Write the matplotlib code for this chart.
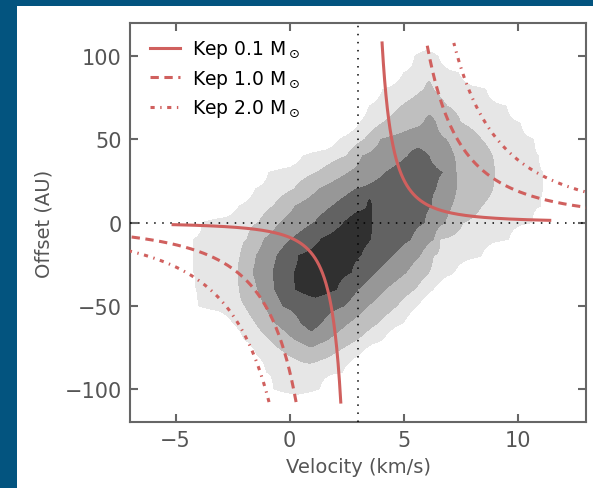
import numpy as np
import matplotlib.pyplot as plt
from matplotlib.patches import Rectangle

plt.rcParams['lines.scale_dashes'] = False

# PV diagram: for each offset row (AU) the velocity
# edges (km/s) of every filled band, lightest (1) to darkest (5)
nan = np.nan
offsets = [110, 100, 90, 80, 70, 60, 50, 40, 30, 20, 10, 0,
           -10, -20, -30, -40, -50, -60, -70, -80, -90, -100, -110]
lev1_lo = [nan, 5.5, 5.0, 4.1, 3.5, 3.1, 2.2, 0.6, -0.9, -1.5, -2.2, -3.8,
           -4.2, -4.2, -4.2, -4.1, -4.0, -2.5, -2.0, -1.4, -1.0, -0.7, nan]
lev1_hi = [nan, 6.5, 7.4, 8.6, 9.5, 10.1, 10.7, 10.9, 11.1, 11.1, 11.0, 10.6,
           9.6, 8.4, 7.2, 6.3, 5.6, 5.0, 4.1, 3.0, 2.3, 1.3, nan]
lev2_lo = [nan, nan, nan, 5.9, 4.9, 4.1, 3.3, 2.5, 1.2, 0.2, -0.7, -1.35,
           -1.85, -2.15, -2.25, -2.2, -1.95, -1.5, -0.9, 0.0, nan, nan, nan]
lev2_hi = [nan, nan, nan, 6.3, 6.9, 7.5, 8.4, 8.9, 9.0, 8.9, 8.4, 7.6,
           6.6, 6.3, 6.1, 5.5, 4.7, 3.9, 3.0, 1.8, nan, nan, nan]
lev3_lo = [nan, nan, nan, nan, nan, 5.9, 4.0, 3.2, 2.6, 1.3, 0.25, -0.4,
           -1.1, -1.45, -1.6, -1.4, -1.1, -0.65, 0.2, nan, nan, nan, nan]
lev3_hi = [nan, nan, nan, nan, nan, 6.4, 6.85, 7.2, 7.3, 7.3, 7.1, 6.8,
           6.3, 5.7, 5.1, 4.2, 3.45, 2.6, 1.7, nan, nan, nan, nan]
lev4_lo = [nan, nan, nan, nan, nan, nan, nan, 5.2, 4.2, 2.9, 1.9, 1.1,
           0.1, -0.55, -0.72, -0.65, -0.3, 0.5, nan, nan, nan, nan, nan]
lev4_hi = [nan, nan, nan, nan, nan, nan, nan, 6.1, 6.7, 6.4, 6.2, 5.9,
           5.3, 4.5, 3.75, 3.0, 2.4, 1.4, nan, nan, nan, nan, nan]
lev5_lo = [nan, nan, nan, nan, nan, nan, nan, nan, nan, nan, 3.4, 2.4,
           1.4, 0.4, 0.2, 0.25, nan, nan, nan, nan, nan, nan, nan]
lev5_hi = [nan, nan, nan, nan, nan, nan, nan, nan, nan, nan, 3.6, 3.6,
           3.55, 3.1, 2.7, 2.05, nan, nan, nan, nan, nan, nan, nan]
band_colors = ['#e6e6e6', '#bfbfbf', '#979797', '#626262', '#303030']

masses = [0.1, 1.0, 2.0]
styles = ['-', (0, (6, 4)), (0, (3, 4, 1, 4))]
v_kep_center = 3.15
v_sys = 3.0

# build the band field row by row
los = [lev1_lo, lev2_lo, lev3_lo, lev4_lo, lev5_lo]
his = [lev1_hi, lev2_hi, lev3_hi, lev4_hi, lev5_hi]
vgrid = np.linspace(-7, 13, 801)
Z = np.full((len(offsets), vgrid.size), -0.5)
for i in range(len(offsets)):
    lo = [l[i] for l in los if not np.isnan(l[i])]
    hi = [h[i] for h in his if not np.isnan(h[i])]
    n = len(lo)
    if n == 0:
        continue
    xs = [lo[0] - 0.6] + lo + [(lo[-1] + hi[-1]) / 2] + hi[::-1] + [hi[0] + 0.6]
    ys = [-0.5] + [k + 0.5 for k in range(n)] + [n] + [k + 0.5 for k in range(n)][::-1] + [-0.5]
    Z[i] = np.interp(vgrid, xs, ys)

fig = plt.figure(figsize=(5.93, 4.89), dpi=100, facecolor='#03547f')
fig.patches.append(Rectangle((17/593, 0), 1, 482/489, transform=fig.transFigure,
                             facecolor='white', edgecolor='none', zorder=-10))
ax = fig.add_axes([130/593, 66/489, 456/593, 399/489])
ax.set_zorder(1)

ax.contourf(vgrid, offsets, Z, levels=[0.5, 1.5, 2.5, 3.5, 4.5, 5.5], colors=band_colors)

ax.axhline(0, color='k', lw=1.1, linestyle=(0, (1.1, 4.7)), zorder=3)
ax.axvline(v_sys, color='k', lw=1.1, linestyle=(0, (1.1, 4.7)), zorder=3)

r = np.geomspace(1.3, 108, 400)
for m, ls in zip(masses, styles):
    dv = 29.78 * np.sqrt(m / r)
    # two branches, kept apart by a nan so they are not joined
    vv = np.concatenate([(v_kep_center - dv)[::-1], [nan], v_kep_center + dv])
    oo = np.concatenate([-r[::-1], [nan], r])
    ax.plot(vv, oo, color='#d0605e', lw=2.2, linestyle=ls, zorder=4,
            label='Kep %.1f M$_\\odot$' % m)

ax.set_xlim(-7, 13)
ax.set_ylim(-120, 120)
ax.set_xticks([-5, 0, 5, 10])
ax.set_yticks([-100, -50, 0, 50, 100])
ax.tick_params(direction='in', length=5.5, width=1.5, colors='#666666',
               labelcolor='#555555', labelsize=15, top=True, right=True, pad=6)
for s in ax.spines.values():
    s.set_color('#666666')
    s.set_linewidth(1.5)
ax.set_xlabel('Velocity (km/s)', fontsize=14, color='#555555', labelpad=5)
ax.set_ylabel('Offset (AU)', fontsize=14, color='#555555', labelpad=8)

ax.legend(loc='upper left', bbox_to_anchor=(0.02, 0.99), frameon=False,
          fontsize=13.5, handlelength=1.6, handletextpad=0.6, labelspacing=0.4,
          borderaxespad=0.2)

fig.savefig('out.png', dpi=100, facecolor=fig.get_facecolor())
